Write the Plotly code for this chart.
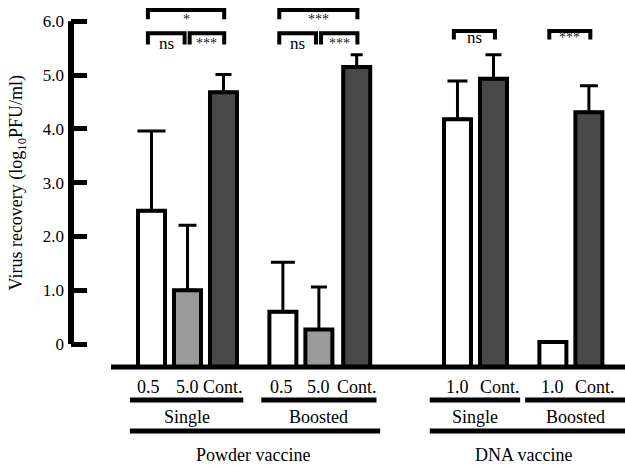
import plotly.graph_objects as go

# ---------------- data ----------------
dose_labels = ["0.5", "5.0", "Cont.", "0.5", "5.0", "Cont.", "1.0", "Cont.", "1.0", "Cont."]
regimens = ["Single", "Single", "Single", "Boosted", "Boosted", "Boosted",
            "Single", "Single", "Boosted", "Boosted"]
vaccines = ["Powder vaccine"] * 6 + ["DNA vaccine"] * 4
means = [2.48, 1.00, 4.68, 0.60, 0.27, 5.15, 4.18, 4.93, 0.04, 4.31]
sd_upper = [1.48, 1.21, 0.33, 0.92, 0.79, 0.23, 0.71, 0.45, 0.0, 0.49]
bar_kind = ["low", "high", "cont", "low", "high", "cont", "low", "cont", "low", "cont"]

# significance brackets: (left bar, right bar, label, level)
sig_pairs = [(0, 2, "*", "top"), (0, 1, "ns", "low"), (1, 2, "***", "low"),
             (3, 5, "***", "top"), (3, 4, "ns", "low"), (4, 5, "***", "low"),
             (6, 7, "ns", "dna"), (8, 9, "***", "dna")]

ytick_vals = [0, 1, 2, 3, 4, 5, 6]
ytick_text = ["0", "1.0", "2.0", "3.0", "4.0", "5.0", "6.0"]

# ---------------- layout constants ----------------
positions = [0, 1, 2, 3.65, 4.65, 5.7, 8.5, 9.5, 11.15, 12.15]
label_shift = [-0.08, 0, 0, -0.05, 0, 0, 0, 0.17, 0, 0.17]
BASE = -0.425
fills = {"low": "#ffffff", "high": "#9a9a9a", "cont": "#484848"}
cap_w = [14, 9, 8, 12, 8, 6, 10, 8, 0, 9]
FONT = "Liberation Serif, Times New Roman, serif"
XR = [-2.236, 13.153]
YR = [-2.284, 6.396]

fig = go.Figure()

for i in range(len(means)):
    fig.add_trace(go.Bar(
        x=[positions[i]], y=[means[i] - BASE], base=BASE, width=0.75,
        marker=dict(color=fills[bar_kind[i]], line=dict(color="black", width=4)),
        error_y=dict(type="data", symmetric=False, array=[sd_upper[i]], arrayminus=[0],
                     visible=sd_upper[i] > 0, thickness=3, width=cap_w[i], color="black"),
        showlegend=False, hoverinfo="skip"))

shapes = []
annotations = []

def line(x0, y0, x1, y1, w=4, xref="x"):
    shapes.append(dict(type="line", xref=xref, yref="y", x0=x0, y0=y0, x1=x1, y1=y1,
                       line=dict(color="black", width=w)))

# y axis line (from 0 to 6 only)
line(0, 0, 0, 6, w=6, xref="paper")
# baseline
line(-1.125, BASE, XR[1], BASE, w=5)

# brackets
levels = {"top": (6.21, 6.04, 6.03), "low": (5.78, 5.57, 5.58), "dna": (5.82, 5.66, 5.69)}
for (i, j, lab, lev) in sig_pairs:
    ytop, yleg, ytxt = levels[lev]
    xl = positions[i] - 0.1
    xr = positions[j] + 0.02
    if lev == "low":
        if j - i == 1 and i in (0, 3):
            xr = positions[j] - 0.08
        if j - i == 1 and i in (1, 4):
            xl = positions[i] + 0.06
    if lev == "dna":
        xl = positions[i] - 0.1
        xr = positions[j] + 0.04
    shapes.append(dict(type="path", xref="x", yref="y",
                       path=f"M {xl},{yleg} L {xl},{ytop} L {xr},{ytop} L {xr},{yleg}",
                       line=dict(color="black", width=4)))
    annotations.append(dict(x=(xl + xr) / 2, y=ytxt, xref="x", yref="y", text=lab,
                            showarrow=False, yanchor="middle",
                            font=dict(family=FONT, size=17 if lab == "ns" else 14,
                                      color="#222222" if lab != "ns" else "black")))

# dose labels
for i, lab in enumerate(dose_labels):
    annotations.append(dict(x=positions[i] + label_shift[i], y=-0.80, xref="x", yref="y",
                            text=lab, showarrow=False, yanchor="middle",
                            font=dict(family=FONT, size=18, color="black")))

# regimen groups
pads = {"Powder vaccine": (0.6, 0.55), "DNA vaccine": (0.77, 0.74)}
vac_extent = {}
k = 0
while k < len(regimens):
    m = k
    while m + 1 < len(regimens) and regimens[m + 1] == regimens[k] and vaccines[m + 1] == vaccines[k]:
        m += 1
    pl, pr = pads[vaccines[k]]
    x0 = positions[k] - pl
    x1 = min(positions[m] + pr, XR[1])
    if m == len(regimens) - 1:
        x1 = XR[1]
    line(x0, -1.04, x1, -1.04, w=5)
    annotations.append(dict(x=(x0 + x1) / 2, y=-1.36, xref="x", yref="y", text=regimens[k],
                            showarrow=False, yanchor="middle",
                            font=dict(family=FONT, size=18, color="black")))
    v = vaccines[k]
    if v not in vac_extent:
        vac_extent[v] = [x0, x1]
    vac_extent[v][1] = x1
    k = m + 1

for v, (x0, x1) in vac_extent.items():
    idx = [n for n in range(len(vaccines)) if vaccines[n] == v]
    x1v = x1 + 0.1 if x1 < XR[1] else x1
    line(x0, -1.615, x1v, -1.615, w=5)
    cx = sum(positions[n] for n in idx) / len(idx)
    annotations.append(dict(x=cx, y=-2.06, xref="x", yref="y", text=v,
                            showarrow=False, yanchor="middle",
                            font=dict(family=FONT, size=18, color="black")))

# y-axis title
annotations.append(dict(x=-0.096, y=3.0, xref="paper", yref="y",
                        text="Virus recovery (log<sub>10</sub>PFU/ml)", textangle=-90,
                        showarrow=False, xanchor="center", yanchor="middle",
                        font=dict(family=FONT, size=18, color="black")))

fig.update_layout(
    width=625, height=467,
    margin=dict(l=71, r=0, t=0, b=0),
    paper_bgcolor="white", plot_bgcolor="white",
    barmode="overlay",
    xaxis=dict(range=XR, visible=False, fixedrange=True),
    yaxis=dict(range=YR, tickvals=ytick_vals, ticktext=ytick_text,
               ticks="inside", ticklen=16, tickwidth=5, tickcolor="black",
               showgrid=False, zeroline=False, showline=False,
               ticklabelstandoff=6,
               tickfont=dict(family=FONT, size=17, color="black")),
    shapes=shapes, annotations=annotations,
)

fig.write_html("out.html")
